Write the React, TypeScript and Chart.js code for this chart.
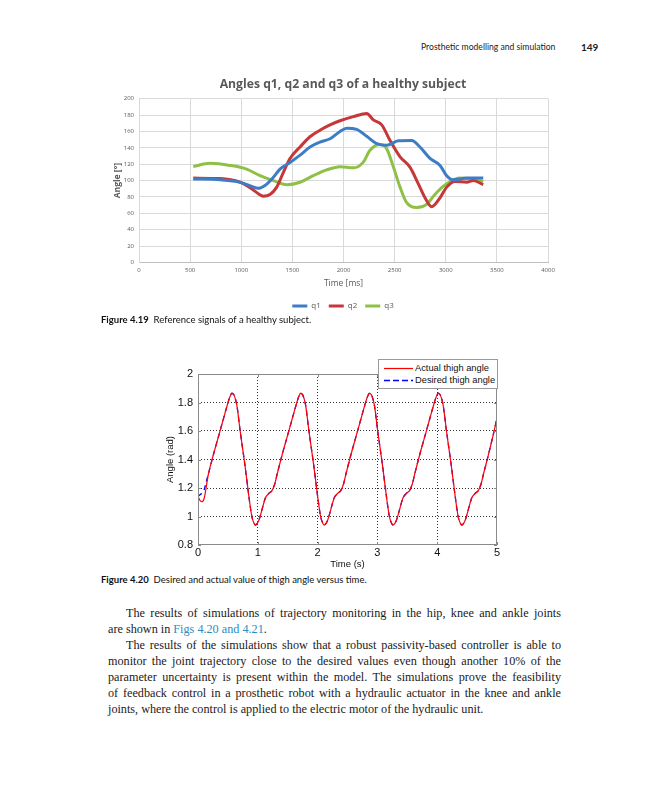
import React, { useEffect, useRef } from "react";
import { Chart, registerables } from "chart.js";

Chart.register(...registerables);

// ---------- Figure 4.19 data (time in ms, angle in degrees) ----------
const q1Time = [531, 792, 988, 1102, 1167, 1232, 1314, 1379, 1477, 1575, 1672, 1770, 1868, 1966, 2031, 2129, 2227, 2325, 2422, 2536, 2667, 2748, 2846, 2944, 3009, 3074, 3205, 3367];
const q1Angle = [102, 101, 98, 93, 90.5, 94, 104, 114, 122, 131, 141, 147, 151, 160, 164, 162.5, 154, 145, 143, 148.5, 149, 141, 127, 118.5, 106, 101, 103, 103];

const q2Time = [531, 792, 988, 1102, 1167, 1216, 1281, 1347, 1412, 1477, 1575, 1672, 1770, 1868, 1966, 2096, 2227, 2292, 2374, 2455, 2553, 2650, 2732, 2797, 2862, 2944, 3009, 3090, 3205, 3269, 3367];
const q2Angle = [103, 102.5, 98, 90, 84, 81, 83, 92, 110, 127, 141, 153.5, 161.5, 168, 173, 178, 182, 174, 168, 149, 129, 116.5, 96, 79, 68, 79, 92, 99, 98, 100, 95];

const q3Time = [531, 694, 890, 1053, 1184, 1314, 1444, 1575, 1705, 1836, 1966, 2096, 2194, 2259, 2357, 2422, 2488, 2553, 2618, 2716, 2813, 2911, 3009, 3139, 3237, 3367];
const q3Angle = [117, 121, 118.5, 114, 106, 100, 95, 98, 106, 113, 117, 115.5, 122.5, 137, 144, 139, 116.5, 92, 73, 67, 71, 85.5, 96, 103, 102, 99];

const seriesNames = ["q1", "q2", "q3"];
const seriesColors = ["#3f7cc6", "#c6373a", "#8fc046"];

// ---------- Figure 4.20 data (time in s, angle in rad) ----------
const thighTime = [
  0, 0.04, 0.075, 0.105, 0.135, 0.175, 0.255, 0.335, 0.415, 0.475, 0.525, 0.565, 0.605, 0.65, 0.705, 0.785, 0.845, 0.9, 0.935,
  0.965, 1.015, 1.065, 1.132, 1.188, 1.235, 1.285, 1.325, 1.405, 1.485, 1.565, 1.625, 1.675, 1.715, 1.755, 1.8, 1.855, 1.935, 1.995, 2.05, 2.085,
  2.115, 2.165, 2.215, 2.282, 2.338, 2.385, 2.435, 2.475, 2.555, 2.635, 2.715, 2.775, 2.825, 2.865, 2.905, 2.95, 3.005, 3.085, 3.145, 3.2, 3.235,
  3.265, 3.315, 3.365, 3.432, 3.488, 3.535, 3.585, 3.625, 3.705, 3.785, 3.865, 3.925, 3.975, 4.015, 4.055, 4.1, 4.155, 4.235, 4.295, 4.35, 4.385,
  4.415, 4.465, 4.515, 4.582, 4.638, 4.685, 4.735, 4.775, 4.855, 4.935, 5.0,
];
const actualThigh = [
  1.14, 1.11, 1.105, 1.13, 1.2, 1.3, 1.43, 1.55, 1.67, 1.76, 1.83, 1.865, 1.85, 1.78, 1.6, 1.36, 1.16, 1.0, 0.955,
  0.94, 0.97, 1.04, 1.135, 1.163, 1.18, 1.23, 1.3, 1.43, 1.55, 1.67, 1.76, 1.83, 1.865, 1.85, 1.78, 1.6, 1.36, 1.16, 1.0, 0.955,
  0.94, 0.97, 1.04, 1.135, 1.163, 1.18, 1.23, 1.3, 1.43, 1.55, 1.67, 1.76, 1.83, 1.865, 1.85, 1.78, 1.6, 1.36, 1.16, 1.0, 0.955,
  0.94, 0.97, 1.04, 1.135, 1.163, 1.18, 1.23, 1.3, 1.43, 1.55, 1.67, 1.76, 1.83, 1.865, 1.85, 1.78, 1.6, 1.36, 1.16, 1.0, 0.955,
  0.94, 0.97, 1.04, 1.135, 1.163, 1.18, 1.23, 1.3, 1.43, 1.57, 1.69,
];
const desiredThigh = [
  1.14, 1.155, 1.165, 1.19, 1.24, 1.3, 1.43, 1.55, 1.67, 1.76, 1.83, 1.865, 1.85, 1.78, 1.6, 1.36, 1.16, 1.0, 0.955,
  0.94, 0.97, 1.04, 1.135, 1.163, 1.18, 1.23, 1.3, 1.43, 1.55, 1.67, 1.76, 1.83, 1.865, 1.85, 1.78, 1.6, 1.36, 1.16, 1.0, 0.955,
  0.94, 0.97, 1.04, 1.135, 1.163, 1.18, 1.23, 1.3, 1.43, 1.55, 1.67, 1.76, 1.83, 1.865, 1.85, 1.78, 1.6, 1.36, 1.16, 1.0, 0.955,
  0.94, 0.97, 1.04, 1.135, 1.163, 1.18, 1.23, 1.3, 1.43, 1.55, 1.67, 1.76, 1.83, 1.865, 1.85, 1.78, 1.6, 1.36, 1.16, 1.0, 0.955,
  0.94, 0.97, 1.04, 1.135, 1.163, 1.18, 1.23, 1.3, 1.43, 1.57, 1.69,
];
const thighLabels = ["Actual thigh angle", "Desired thigh angle"];

const zip = (xs: number[], ys: number[]) => xs.map((x, i) => ({ x, y: ys[i] }));
const plain = (v: any) => String(Number(Number(v).toFixed(2)));

function AnglesChart() {
  const ref = useRef<HTMLCanvasElement>(null);
  useEffect(() => {
    const times = [q1Time, q2Time, q3Time];
    const vals = [q1Angle, q2Angle, q3Angle];
    const font = "'Open Sans', sans-serif";
    const chart = new Chart(ref.current!, {
      type: "line",
      data: {
        datasets: seriesNames.map((name, i) => ({
          label: name,
          data: zip(times[i], vals[i]),
          borderColor: seriesColors[i],
          backgroundColor: seriesColors[i],
          borderWidth: 3,
          pointRadius: 0,
          cubicInterpolationMode: "monotone" as const,
        })),
      },
      options: {
        responsive: false,
        animation: false,
        layout: { padding: { top: 0, right: 0, bottom: 0, left: 0 } },
        plugins: {
          title: {
            display: true,
            text: "Angles q1, q2 and q3 of a healthy subject",
            color: "#595959",
            font: { family: font, size: 12.2, weight: "bold" },
            padding: { top: 7, bottom: 7 },
          },
          legend: {
            position: "bottom",
            labels: {
              color: "#595959",
              font: { family: font, size: 8 },
              boxWidth: 15,
              boxHeight: 3,
              padding: 8,
              generateLabels: (c: any) =>
                Chart.defaults.plugins.legend.labels.generateLabels(c).map((l: any) => ({ ...l, lineWidth: 0 })),
            },
          },
          tooltip: { enabled: false },
        },
        scales: {
          x: {
            type: "linear",
            min: 0,
            max: 4000,
            ticks: { stepSize: 500, color: "#595959", font: { family: font, size: 6 }, padding: 4, maxRotation: 0, callback: plain },
            grid: { color: "#d9d9d9", drawTicks: false },
            border: { color: "#bfbfbf" },
            title: { display: true, text: "Time [ms]", color: "#595959", font: { family: font, size: 8.5 }, padding: { top: 0, bottom: 5 } },
            afterFit: (s: any) => { s.height = 31.5; },
          },
          y: {
            min: 0,
            max: 200,
            ticks: { stepSize: 20, color: "#595959", font: { family: font, size: 6 }, padding: 5, callback: plain },
            grid: { color: "#d9d9d9", drawTicks: false },
            border: { color: "#d9d9d9" },
            title: { display: true, text: "Angle [°]", color: "#595959", font: { family: font, size: 8.5, weight: "bold" }, padding: { top: 12, bottom: 0 } },
            afterFit: (s: any) => { s.width = 39; },
          },
          spacer: {
            position: "right",
            display: true,
            grid: { display: false, drawTicks: false },
            border: { display: false },
            ticks: { display: false },
            afterFit: (s: any) => { s.width = 38; },
          },
        },
      },
    } as any);
    return () => chart.destroy();
  }, []);
  return <canvas ref={ref} width={486} height={250} style={{ width: 486, height: 250, display: "block" }} />;
}

const matlabBox = {
  id: "matlabBox",
  afterDatasetsDraw(chart: any) {
    const { ctx, chartArea } = chart;
    const { left, top, right, bottom } = chartArea;
    ctx.save();
    ctx.strokeStyle = "#8a8a8a";
    ctx.lineWidth = 1;
    ctx.strokeRect(Math.round(left) + 0.5, Math.round(top) + 0.5, Math.round(right - left) - 1, Math.round(bottom - top) - 1);
    ctx.beginPath();
    chart.scales.y.ticks.forEach((t: any) => {
      const py = Math.round(chart.scales.y.getPixelForValue(t.value)) + 0.5;
      ctx.moveTo(left, py); ctx.lineTo(left + 3, py);
      ctx.moveTo(right, py); ctx.lineTo(right - 3, py);
    });
    chart.scales.x.ticks.forEach((t: any) => {
      const px = Math.round(chart.scales.x.getPixelForValue(t.value)) + 0.5;
      ctx.moveTo(px, bottom); ctx.lineTo(px, bottom - 3);
      ctx.moveTo(px, top); ctx.lineTo(px, top + 3);
    });
    ctx.stroke();
    ctx.restore();
  },
};

function ThighChart() {
  const ref = useRef<HTMLCanvasElement>(null);
  useEffect(() => {
    const font = "'Liberation Sans', Arial, sans-serif";
    const chart = new Chart(ref.current!, {
      type: "line",
      data: {
        datasets: [
          {
            label: thighLabels[0],
            data: zip(thighTime, actualThigh),
            borderColor: "#ff0000",
            borderWidth: 1.2,
            pointRadius: 0,
            tension: 0.3,
          },
          {
            label: thighLabels[1],
            data: zip(thighTime, desiredThigh),
            borderColor: "#0000ff",
            borderWidth: 1.3,
            borderDash: [5, 4],
            pointRadius: 0,
            tension: 0.3,
          },
        ],
      },
      options: {
        responsive: false,
        animation: false,
        layout: { padding: { top: 18, right: 23, bottom: 0, left: 0 } },
        plugins: { legend: { display: false }, title: { display: false }, tooltip: { enabled: false } },
        scales: {
          x: {
            type: "linear",
            min: 0,
            max: 5,
            ticks: { stepSize: 1, color: "#111", font: { family: font, size: 11 }, padding: 1, maxRotation: 0, callback: plain },
            grid: {
              drawTicks: false,
              lineWidth: 1,
              color: (c: any) => (c.tick && (c.tick.value === 0 || c.tick.value === 5) ? "rgba(0,0,0,0)" : "#333"),
            },
            border: { display: false, dash: [1, 2] },
            title: { display: true, text: "Time (s)", color: "#111", font: { family: font, size: 9.5 }, padding: 0 },
            afterFit: (s: any) => { s.height = 25; },
          },
          y: {
            min: 0.8,
            max: 2,
            ticks: { stepSize: 0.2, color: "#111", font: { family: font, size: 11 }, padding: 5, callback: plain },
            grid: {
              drawTicks: false,
              lineWidth: 1,
              color: (c: any) => (c.tick && (Math.abs(c.tick.value - 0.8) < 1e-6 || Math.abs(c.tick.value - 2) < 1e-6) ? "rgba(0,0,0,0)" : "#333"),
            },
            border: { display: false, dash: [1, 2] },
            title: { display: true, text: "Angle (rad)", color: "#111", font: { family: font, size: 9.5 }, padding: { top: 15, bottom: 0 } },
            afterFit: (s: any) => { s.width = 48; },
          },
        },
      },
      plugins: [matlabBox],
    } as any);
    return () => chart.destroy();
  }, []);
  return <canvas ref={ref} width={370} height={214} style={{ width: 370, height: 214, display: "block" }} />;
}

const abs = (left: number, top: number, extra: React.CSSProperties = {}): React.CSSProperties => ({
  position: "absolute",
  left,
  top,
  whiteSpace: "nowrap",
  ...extra,
});

const sans = "Lato, 'Noto Sans', sans-serif";
const serif = "'Liberation Serif', 'DejaVu Serif', serif";

function BodyLine({ y, left, children, justify }: { y: number; left: number; children: React.ReactNode; justify: boolean }) {
  return (
    <div
      style={abs(left, y - 8, {
        width: 561 - left,
        lineHeight: "16px",
        fontFamily: serif,
        fontSize: 12.2,
        color: "#1a1a1a",
        textAlign: justify ? "justify" : "left",
        textAlignLast: justify ? "justify" : "left",
      } as React.CSSProperties)}
    >
      {children}
    </div>
  );
}

export default function App() {
  return (
    <div style={{ position: "absolute", left: 0, top: 0, width: 648, height: 800, background: "#fff", overflow: "hidden" }}>
      <div style={abs(421, 40, { fontFamily: sans, fontSize: 8.6, lineHeight: "14px", color: "#222" })}>Prosthetic modelling and simulation</div>
      <div style={abs(581, 40, { fontFamily: sans, fontSize: 10, fontWeight: 700, lineHeight: "14px", color: "#222" })}>149</div>

      <div style={abs(100, 70)}>
        <AnglesChart />
      </div>

      <div style={abs(101, 313, { fontFamily: sans, fontSize: 9.5, lineHeight: "14px", color: "#111" })}>
        <b>Figure 4.19</b>&nbsp; Reference signals of a healthy subject.
      </div>

      <div style={abs(150, 356)}>
        <ThighChart />
      </div>

      <div
        style={abs(378, 359, {
          width: 118,
          height: 28,
          border: "1px solid #9a9a9a",
          background: "#fff",
          fontFamily: "'Liberation Sans', Arial, sans-serif",
          fontSize: 9.3,
          color: "#111",
        })}
      >
        <svg width={34} height={28} style={{ position: "absolute", left: 3, top: 0 }}>
          <line x1={2} y1={8.5} x2={31} y2={8.5} stroke="#ff0000" strokeWidth={1.2} />
          <line x1={2} y1={20.5} x2={31} y2={20.5} stroke="#0000ff" strokeWidth={1.6} strokeDasharray="6 3" />
        </svg>
        <div style={{ position: "absolute", left: 36, top: 2, lineHeight: "12px" }}>{thighLabels[0]}</div>
        <div style={{ position: "absolute", left: 36, top: 14, lineHeight: "12px" }}>{thighLabels[1]}</div>
      </div>

      <div style={abs(101, 573, { fontFamily: sans, fontSize: 9.5, lineHeight: "14px", color: "#111" })}>
        <b>Figure 4.20</b>&nbsp; Desired and actual value of thigh angle versus time.
      </div>

      <BodyLine y={612.5} left={126} justify>
        The results of simulations of trajectory monitoring in the hip, knee and ankle joints
      </BodyLine>
      <BodyLine y={628.6} left={108} justify={false}>
        are shown in <span style={{ color: "#2b8cc0" }}>Figs 4.20 and 4.21</span>.
      </BodyLine>
      <BodyLine y={644.7} left={126} justify>
        The results of the simulations show that a robust passivity-based controller is able to
      </BodyLine>
      <BodyLine y={660.8} left={108} justify>
        monitor the joint trajectory close to the desired values even though another 10% of the
      </BodyLine>
      <BodyLine y={676.9} left={108} justify>
        parameter uncertainty is present within the model. The simulations prove the feasibility
      </BodyLine>
      <BodyLine y={693} left={108} justify>
        of feedback control in a prosthetic robot with a hydraulic actuator in the knee and ankle
      </BodyLine>
      <BodyLine y={709.1} left={108} justify={false}>
        joints, where the control is applied to the electric motor of the hydraulic unit.
      </BodyLine>
    </div>
  );
}
